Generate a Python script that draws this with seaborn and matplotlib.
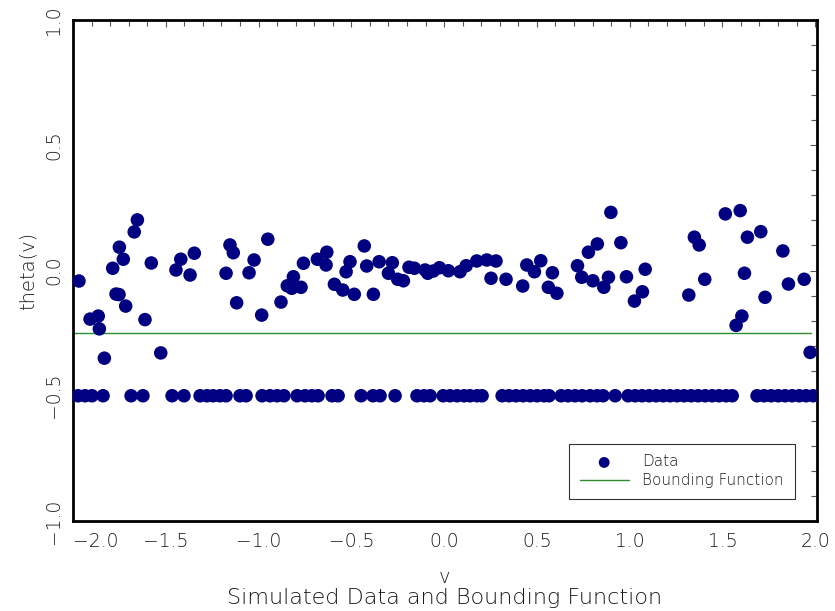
import numpy as np
import pandas as pd
import matplotlib
matplotlib.use('Agg')
import matplotlib.pyplot as plt
from matplotlib.ticker import MultipleLocator
import seaborn as sns

# points that fall inside the band
upper_v = [-1.968, -1.908, -1.864, -1.858, -1.831, -1.786, -1.768, -1.750, -1.752, -1.729,
           -1.716, -1.670, -1.653, -1.612, -1.578, -1.527, -1.445, -1.419, -1.369, -1.346,
           -1.175, -1.154, -1.136, -1.118, -1.051, -1.024, -0.983, -0.950, -0.879, -0.845,
           -0.812, -0.821, -0.771, -0.758, -0.683, -0.632, -0.636, -0.591, -0.546, -0.528,
           -0.507, -0.484, -0.430, -0.417, -0.381, -0.350, -0.300, -0.279, -0.250, -0.219,
           -0.189, -0.160, -0.102, -0.088, -0.058, -0.025, 0.023, 0.086, 0.119, 0.176,
           0.230, 0.253, 0.280, 0.334, 0.424, 0.446, 0.487, 0.521, 0.584, 0.562,
           0.608, 0.719, 0.742, 0.778, 0.802, 0.826, 0.861, 0.886, 0.899, 0.953,
           0.983, 1.026, 1.069, 1.084, 1.319, 1.349, 1.375, 1.405, 1.516, 1.574,
           1.605, 1.596, 1.619, 1.635, 1.707, 1.730, 1.826, 1.856, 1.941, 1.973]
upper_theta = [-0.042, -0.194, -0.182, -0.233, -0.350, 0.009, -0.094, 0.093, -0.096, 0.045,
               -0.142, 0.154, 0.202, -0.196, 0.030, -0.329, 0.002, 0.045, -0.018, 0.069,
               -0.011, 0.102, 0.071, -0.129, -0.009, 0.042, -0.178, 0.125, -0.126, -0.061,
               -0.025, -0.071, -0.067, 0.029, 0.045, 0.073, 0.022, -0.055, -0.078, -0.005,
               0.035, -0.095, 0.098, 0.018, -0.095, 0.035, -0.011, 0.031, -0.035, -0.041,
               0.013, 0.009, 0.002, -0.011, -0.002, 0.011, -0.001, -0.005, 0.019, 0.038,
               0.042, -0.031, 0.038, -0.035, -0.062, 0.022, -0.005, 0.039, -0.009, -0.067,
               -0.091, 0.019, -0.027, 0.073, -0.041, 0.106, -0.067, -0.027, 0.232, 0.111,
               -0.025, -0.122, -0.085, 0.005, -0.098, 0.133, 0.102, -0.035, 0.226, -0.219,
               -0.182, 0.239, -0.011, 0.133, 0.155, -0.107, 0.078, -0.054, -0.035, -0.327]

# points sitting on the floor at -0.5
floor_v = [-1.973, -1.935, -1.898, -1.838, -1.687, -1.623, -1.466, -1.402, -1.315, -1.278,
           -1.245, -1.208, -1.175, -1.100, -1.067, -0.981, -0.938, -0.900, -0.863, -0.792,
           -0.749, -0.712, -0.679, -0.604, -0.571, -0.447, -0.383, -0.345, -0.264, -0.146,
           -0.108, -0.075, -0.005, 0.032, 0.070, 0.108, 0.140, 0.178, 0.205, 0.313,
           0.350, 0.388, 0.426, 0.464, 0.501, 0.539, 0.566, 0.631, 0.668, 0.706,
           0.744, 0.787, 0.825, 0.857, 0.922, 0.992, 1.030, 1.067, 1.105, 1.143,
           1.181, 1.218, 1.256, 1.294, 1.332, 1.369, 1.407, 1.445, 1.482, 1.520,
           1.553, 1.687, 1.725, 1.763, 1.801, 1.838, 1.876, 1.914, 1.951, 1.989]
floor_theta = -0.5

bound_v = [-2.0, 1.98]
bound_theta = [-0.25, -0.25]

x_ticks = [-2.0, -1.5, -1.0, -0.5, 0.0, 0.5, 1.0, 1.5, 2.0]
y_ticks = [-1.0, -0.5, 0.0, 0.5, 1.0]

data = pd.DataFrame({'v': upper_v + floor_v,
                     'theta': upper_theta + [floor_theta] * len(floor_v)})
bound = pd.DataFrame({'v': bound_v, 'theta': bound_theta})

sns.set_style('white')
plt.rcParams['font.family'] = ['DejaVu Sans']
plt.rcParams['font.weight'] = 'light'
plt.rcParams['axes.labelweight'] = 'light'
txt = '#1a1a1a'

fig = plt.figure(figsize=(8.35, 6.11), dpi=100)
ax = fig.add_axes([73 / 835, 90 / 611, 744 / 835, 501 / 611])

sns.scatterplot(data=data, x='v', y='theta', ax=ax, color='#000080', s=95,
                edgecolor='none', linewidth=0, label='Data', zorder=3)
sns.lineplot(data=bound, x='v', y='theta', ax=ax, color='#2e8b2e', linewidth=1.0,
             label='Bounding Function', zorder=2)

ax.set_xlim(-2.0, 2.01)
ax.set_ylim(-1.0, 1.0)
ax.set_xticks(x_ticks)
ax.set_yticks(y_ticks)
ax.set_xticklabels(['\u2212%.1f' % abs(t) if t < 0 else '%.1f' % t for t in x_ticks])
ax.set_yticklabels(['\u2212%.1f' % abs(t) if t < 0 else '%.1f' % t for t in y_ticks],
                   rotation=90, va='center')
ax.xaxis.set_minor_locator(MultipleLocator(0.1))
ax.yaxis.set_minor_locator(MultipleLocator(0.1))
ax.tick_params(which='both', direction='in', top=True, right=True, colors='#555555',
               labelcolor=txt, labelsize=13.5)
ax.tick_params(which='major', length=5, width=0.8)
ax.tick_params(which='minor', length=4, width=0.8)
ax.tick_params(axis='x', pad=8)
ax.tick_params(axis='y', pad=7)
ax.get_xticklabels()[0].set_horizontalalignment('left')
for sp in ax.spines.values():
    sp.set_color('black')
    sp.set_linewidth(2)

ax.set_xlabel('v', fontsize=14, color=txt, labelpad=12, fontweight='light')
ax.set_ylabel('theta(v)', fontsize=14, color=txt, labelpad=5, fontweight='light')
fig.text(445 / 835, 1 - 598 / 611, 'Simulated Data and Bounding Function',
         ha='center', va='center', fontsize=16, color=txt)

leg = ax.legend(loc='lower right', bbox_to_anchor=(0.970, 0.044), fontsize=11,
                frameon=True, fancybox=False, borderpad=0.7, borderaxespad=0,
                handlelength=3.2, handletextpad=0.9, labelspacing=0.25,
                markerscale=0.8)
leg.get_frame().set_edgecolor('black')
leg.get_frame().set_linewidth(0.8)
for t in leg.get_texts():
    t.set_color(txt)

fig.savefig('out.png', dpi=100)
